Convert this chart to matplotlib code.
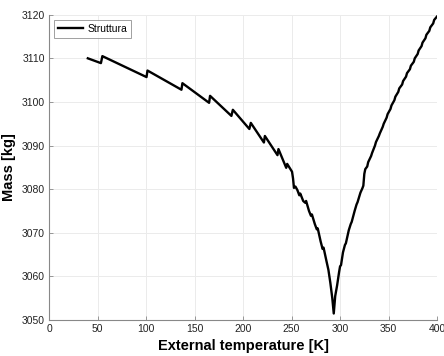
import matplotlib
matplotlib.use("Agg")
import matplotlib.pyplot as plt

plt.rcParams['font.family'] = ['Liberation Sans', 'DejaVu Sans']

temperature_K = [
    40, 53.5, 55, 100.5, 101.5, 136.5, 137.5, 165, 166, 188, 189.5, 206.5, 208,
    221.5, 222.5, 235.5, 236.5, 244.5, 245.5, 250.5, 251.5, 252.5, 254, 256, 258,
    259, 262, 264, 265, 268, 270, 271, 274, 276, 277, 280, 282, 283, 286, 288,
    290, 292, 293.5,
    295, 297, 299, 300, 301, 303, 305, 306, 309, 311, 312, 315, 317, 318, 321,
    323, 324, 325, 326, 328, 329, 332, 333, 336, 337, 340, 341, 344, 345, 348,
    349, 352, 353, 356, 357, 360, 361, 364, 365, 368, 369, 372, 373, 376, 377,
    380, 381, 384, 385, 388, 389, 392, 393, 396, 397, 400,
]
mass_kg = [
    3110.0, 3108.9, 3110.5, 3105.7, 3107.2, 3102.8, 3104.3, 3099.8, 3101.4,
    3096.8, 3098.2, 3093.8, 3095.2, 3090.7, 3092.2, 3087.8, 3089.2, 3084.9,
    3085.8, 3084.0, 3082.5, 3080.3, 3080.6, 3079.8, 3078.6, 3079.0, 3077.3,
    3076.9, 3077.3, 3075.0, 3073.9, 3074.2, 3072.0, 3070.8, 3071.0, 3068.0,
    3066.3, 3066.6, 3063.5, 3061.5, 3058.5, 3055.0, 3051.5,
    3055.5, 3058.0, 3061.0, 3062.3, 3062.6, 3065.5, 3067.2, 3067.6, 3070.6,
    3072.0, 3072.5, 3075.0, 3076.5, 3077.0, 3079.2, 3080.2, 3080.8, 3083.5,
    3084.6, 3085.2, 3086.2, 3087.6, 3088.3, 3090.0, 3090.8, 3092.2, 3092.8,
    3094.3, 3095.0, 3096.4, 3097.2, 3098.4, 3099.2, 3100.4, 3101.2, 3102.3,
    3103.1, 3104.0, 3104.8, 3105.8, 3106.6, 3107.5, 3108.3, 3109.2, 3110.0,
    3111.0, 3111.8, 3112.8, 3113.6, 3114.6, 3115.4, 3116.3, 3117.1, 3118.0,
    3118.8, 3119.6,
]
x_ticks = [0, 50, 100, 150, 200, 250, 300, 350, 400]
y_ticks = [3050, 3060, 3070, 3080, 3090, 3100, 3110, 3120]
series_label = "Struttura"

fig = plt.figure(figsize=(4.44, 3.56), dpi=100)
ax = fig.add_axes([0.1104, 0.101, 0.874, 0.8577])
ax.plot(temperature_K, mass_kg, color='black', lw=1.7, label=series_label)
ax.set_xlim(0, 400)
ax.set_ylim(3050, 3120)
ax.set_xticks(x_ticks)
ax.set_yticks(y_ticks)
ax.grid(True, color='#ebebeb', lw=0.7)
ax.set_axisbelow(True)
for s in ['top', 'right']:
    ax.spines[s].set_visible(False)
for s in ['left', 'bottom']:
    ax.spines[s].set_color('#888888')
    ax.spines[s].set_linewidth(0.8)
ax.tick_params(direction='in', length=3, width=0.6, color='#888888',
               labelsize=7.5, labelcolor='#222222', pad=3)
ax.set_xlabel('External temperature [K]', fontsize=10.5, fontweight='bold')
ax.set_ylabel('Mass [kg]', fontsize=10.5, fontweight='bold')
ax.yaxis.set_label_coords(-0.085, 0.5)
ax.xaxis.set_label_coords(0.5, -0.063)
leg = ax.legend(loc='upper left', fontsize=7.5, frameon=True, fancybox=False,
                edgecolor='#888888', handlelength=2.4, handletextpad=0.4,
                borderpad=0.4, borderaxespad=0.5)
leg.get_frame().set_linewidth(0.7)
fig.savefig('out.png', dpi=100)
